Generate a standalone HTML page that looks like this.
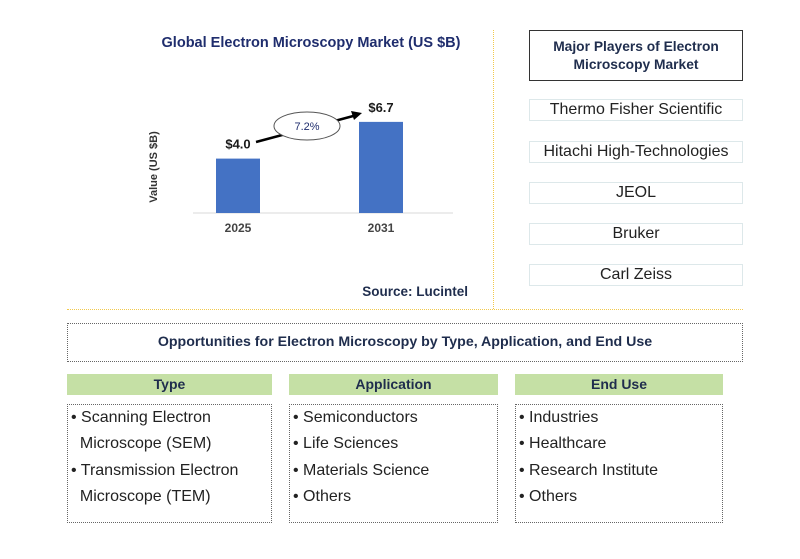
<!DOCTYPE html>
<html><head><meta charset="utf-8"><style>
body{margin:0;width:800px;height:559px;background:#fff;font-family:"Liberation Sans",Arial,sans-serif;position:relative;overflow:hidden}
.a{position:absolute;box-sizing:border-box}
.pl{border:1px solid #dde8ea;font-size:16px;color:#222;text-align:center;line-height:20px}
.gh{background:#c5e0a5;font-weight:bold;font-size:14px;color:#1f2d4d;text-align:center;line-height:21px}
.cb{border:1px dotted #666;font-size:16px;color:#222;line-height:26.3px;padding:0 0 0 3px}
</style></head><body>
<div class="a" style="left:493px;top:30px;height:279px;border-left:1px dotted #f2c94c"></div>
<div class="a" style="left:67px;top:309px;width:676px;border-top:1px dotted #f2c94c"></div>

<svg class="a" style="left:0;top:0" width="495" height="305">
<text x="311" y="47" text-anchor="middle" font-weight="bold" font-size="14.5" fill="#1f2d6d">Global Electron Microscopy Market (US $B)</text>
<text transform="translate(157,167) rotate(-90)" text-anchor="middle" font-weight="bold" font-size="11" fill="#333">Value (US $B)</text>
<line x1="193" y1="213" x2="453" y2="213" stroke="#d9d9d9"/>
<g id="bars"></g>
<line x1="256" y1="142" x2="357" y2="115" stroke="#000" stroke-width="2.5"/>
<polygon points="362,113 351,111 354,120" fill="#000"/>
<ellipse cx="307" cy="126" rx="33" ry="14" fill="#fff" stroke="#555"/>
<text x="307" y="130" text-anchor="middle" font-size="11" fill="#1f2d6d">7.2%</text>
<text x="468" y="296" text-anchor="end" font-weight="bold" font-size="13.5" fill="#1f2d4d">Source: Lucintel</text>
</svg>
<script>
const categories=["2025","2031"];
const values=[4.0,6.7];
const valueLabels=["$4.0","$6.7"];
const base=213, scale=13.6, x0=216, step=143, bw=44;
const g=document.getElementById('bars');const ns="http://www.w3.org/2000/svg";
categories.forEach((c,i)=>{
 const h=values[i]*scale, x=x0+i*step;
 const r=document.createElementNS(ns,'rect');
 
 
 r.setAttribute('x',x);r.setAttribute('y',base-h);r.setAttribute('width',bw);r.setAttribute('height',h);r.setAttribute('fill','#4472c4');g.appendChild(r);
 const t=document.createElementNS(ns,'text');
 
 
 t.setAttribute('x',x+bw/2);t.setAttribute('y',base-h-10);t.setAttribute('text-anchor','middle');t.setAttribute('font-weight','bold');t.setAttribute('font-size','13');t.setAttribute('fill','#1a1a1a');t.textContent=valueLabels[i];g.appendChild(t);
 const l=document.createElementNS(ns,'text');
 
 
 l.setAttribute('x',x+bw/2);l.setAttribute('y',base+19);l.setAttribute('text-anchor','middle');l.setAttribute('font-weight','bold');l.setAttribute('font-size','12');l.setAttribute('fill','#444');l.textContent=c;g.appendChild(l);
});
</script>

<div class="a" style="left:529px;top:30px;width:214px;height:51px;border:1px solid #333;font-weight:bold;font-size:13.8px;color:#1f2d4d;text-align:center;line-height:18px;padding-top:7px">Major Players of Electron<br>Microscopy Market</div>
<div class="a pl" style="left:529px;top:99px;width:214px;height:22px">Thermo Fisher Scientific</div>
<div class="a pl" style="left:529px;top:141px;width:214px;height:22px">Hitachi High-Technologies</div>
<div class="a pl" style="left:529px;top:182px;width:214px;height:22px">JEOL</div>
<div class="a pl" style="left:529px;top:223px;width:214px;height:22px">Bruker</div>
<div class="a pl" style="left:529px;top:264px;width:214px;height:22px">Carl Zeiss</div>

<div class="a" style="left:67px;top:323px;width:676px;height:39px;border:1px dotted #666;text-align:center;font-weight:bold;font-size:14.2px;color:#1f2d4d;line-height:37px">Opportunities for Electron Microscopy by Type, Application, and End Use</div>

<div class="a gh" style="left:67px;top:374px;width:205px;height:21px">Type</div>
<div class="a gh" style="left:289px;top:374px;width:209px;height:21px">Application</div>
<div class="a gh" style="left:515px;top:374px;width:208px;height:21px">End Use</div>

<div class="a cb" style="left:67px;top:404px;width:205px;height:119px">• Scanning Electron<br>&nbsp;&nbsp;Microscope (SEM)<br>• Transmission Electron<br>&nbsp;&nbsp;Microscope (TEM)</div>
<div class="a cb" style="left:289px;top:404px;width:209px;height:119px">• Semiconductors<br>• Life Sciences<br>• Materials Science<br>• Others</div>
<div class="a cb" style="left:515px;top:404px;width:208px;height:119px">• Industries<br>• Healthcare<br>• Research Institute<br>• Others</div>
</body></html>
